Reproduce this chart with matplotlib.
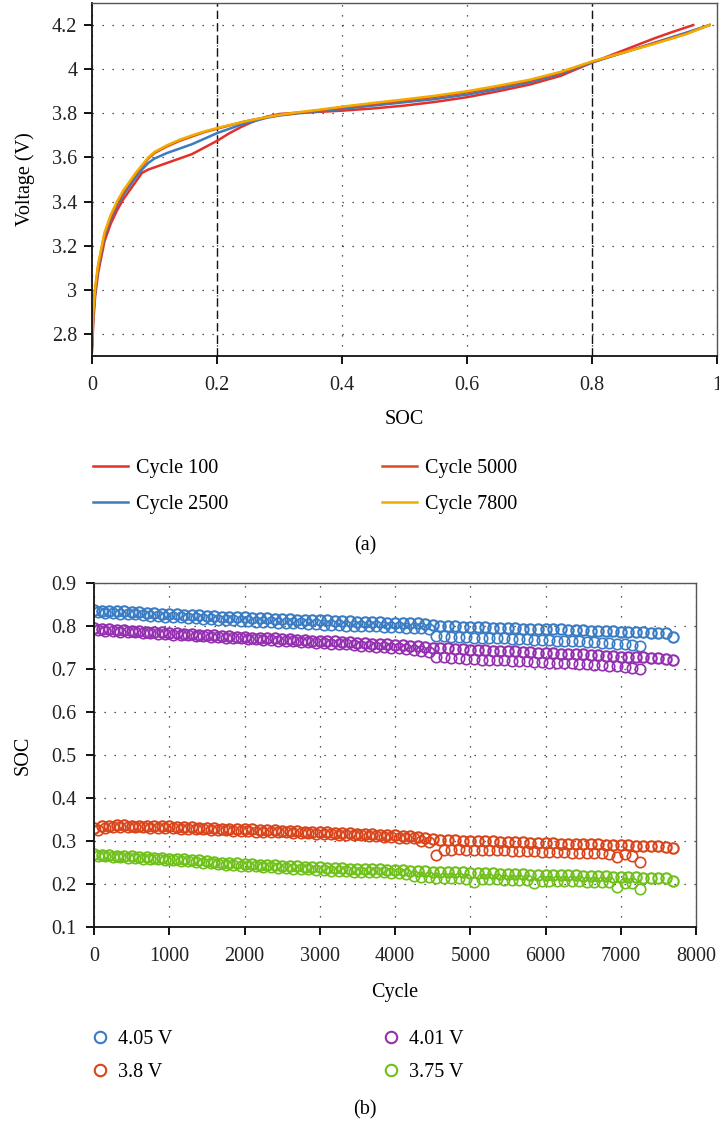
import matplotlib
matplotlib.use("Agg")
import matplotlib.pyplot as plt
import numpy as np
from matplotlib.ticker import FuncFormatter

plt.rcParams['font.family'] = ['Liberation Serif', 'DejaVu Serif']
plt.rcParams['font.size'] = 14.5

# ---- (a) voltage vs SOC ----
soc_100 = [0, 0.002, 0.005, 0.01, 0.02, 0.03, 0.04, 0.05, 0.06, 0.07, 0.08, 0.09, 0.10,
           0.12, 0.14, 0.16, 0.18, 0.20, 0.22, 0.24, 0.26, 0.28, 0.30, 0.33, 0.36, 0.40,
           0.45, 0.50, 0.55, 0.60, 0.65, 0.70, 0.75, 0.80, 0.85, 0.90, 0.93, 0.962]
v_100 = [2.72, 2.85, 2.97, 3.08, 3.22, 3.30, 3.36, 3.41, 3.45, 3.49, 3.53, 3.545, 3.555,
         3.575, 3.595, 3.615, 3.645, 3.675, 3.71, 3.74, 3.765, 3.785, 3.797, 3.803, 3.806, 3.812,
         3.822, 3.835, 3.852, 3.873, 3.90, 3.93, 3.97, 4.03, 4.085, 4.14, 4.17, 4.20]

soc_late = [0, 0.002, 0.005, 0.01, 0.02, 0.03, 0.04, 0.05, 0.06, 0.07, 0.08, 0.09, 0.10,
            0.12, 0.14, 0.16, 0.18, 0.20, 0.22, 0.24, 0.26, 0.28, 0.30, 0.33, 0.36, 0.40,
            0.45, 0.50, 0.55, 0.60, 0.65, 0.70, 0.75, 0.80, 0.85, 0.90, 0.95, 0.988]
v_2500 = [2.74, 2.88, 2.99, 3.10, 3.24, 3.32, 3.38, 3.43, 3.47, 3.51, 3.545, 3.575, 3.595,
          3.62, 3.64, 3.66, 3.685, 3.71, 3.73, 3.75, 3.765, 3.78, 3.79, 3.80, 3.808, 3.82,
          3.835, 3.85, 3.865, 3.885, 3.91, 3.94, 3.98, 4.03, 4.075, 4.12, 4.165, 4.20]
v_5000 = [2.75, 2.89, 3.00, 3.11, 3.25, 3.33, 3.39, 3.44, 3.485, 3.525, 3.56, 3.595, 3.62,
          3.65, 3.675, 3.695, 3.715, 3.73, 3.745, 3.76, 3.772, 3.783, 3.792, 3.802, 3.812, 3.827,
          3.843, 3.858, 3.875, 3.895, 3.92, 3.948, 3.985, 4.033, 4.075, 4.118, 4.16, 4.20]
v_7800 = [2.76, 2.90, 3.01, 3.12, 3.26, 3.34, 3.40, 3.45, 3.49, 3.53, 3.565, 3.60, 3.625,
          3.655, 3.68, 3.70, 3.718, 3.733, 3.747, 3.76, 3.772, 3.783, 3.793, 3.805, 3.815, 3.83,
          3.847, 3.863, 3.88, 3.90, 3.925, 3.952, 3.988, 4.035, 4.075, 4.115, 4.158, 4.20]

# ---- (b) SOC at fixed voltage vs cycle (every 100 cycles) ----
blue_hi = [0.838, 0.836, 0.836, 0.835, 0.834, 0.833, 0.832, 0.831, 0.830, 0.829,
           0.828, 0.827, 0.826, 0.826, 0.825, 0.824, 0.823, 0.822, 0.822, 0.821,
           0.820, 0.819, 0.819, 0.818, 0.817, 0.817, 0.816, 0.815, 0.815, 0.814,
           0.813, 0.813, 0.812, 0.812, 0.811, 0.810, 0.810, 0.809, 0.809, 0.808,
           0.808, 0.807, 0.806, 0.806, 0.805, 0.803, 0.800, 0.799, 0.799, 0.798,
           0.798, 0.797, 0.797, 0.796, 0.796, 0.795, 0.795, 0.794, 0.794, 0.793,
           0.793, 0.792, 0.792, 0.791, 0.790, 0.790, 0.789, 0.789, 0.788, 0.788,
           0.787, 0.786, 0.786, 0.785, 0.784, 0.784, 0.783, 0.775]
blue_lo = [0.832, 0.831, 0.830, 0.829, 0.828, 0.827, 0.826, 0.824, 0.823, 0.822,
           0.821, 0.820, 0.819, 0.818, 0.817, 0.816, 0.815, 0.814, 0.813, 0.812,
           0.811, 0.810, 0.809, 0.809, 0.808, 0.807, 0.806, 0.806, 0.805, 0.804,
           0.803, 0.803, 0.802, 0.801, 0.801, 0.800, 0.799, 0.799, 0.798, 0.797,
           0.797, 0.796, 0.795, 0.795, 0.794, 0.777, 0.776, 0.775, 0.775, 0.774,
           0.773, 0.773, 0.772, 0.771, 0.771, 0.770, 0.769, 0.769, 0.768, 0.767,
           0.767, 0.766, 0.765, 0.765, 0.764, 0.763, 0.762, 0.761, 0.760, 0.759,
           0.757, 0.756, 0.753]
purple_hi = [0.795, 0.793, 0.792, 0.791, 0.790, 0.789, 0.788, 0.787, 0.786, 0.785,
             0.784, 0.783, 0.782, 0.781, 0.780, 0.779, 0.778, 0.777, 0.776, 0.775,
             0.774, 0.773, 0.772, 0.771, 0.771, 0.770, 0.769, 0.768, 0.767, 0.766,
             0.766, 0.765, 0.764, 0.763, 0.762, 0.761, 0.760, 0.759, 0.758, 0.757,
             0.756, 0.755, 0.754, 0.753, 0.752, 0.750, 0.749, 0.748, 0.747, 0.746,
             0.745, 0.744, 0.744, 0.743, 0.742, 0.741, 0.741, 0.740, 0.739, 0.738,
             0.737, 0.737, 0.736, 0.735, 0.734, 0.734, 0.733, 0.732, 0.731, 0.730,
             0.729, 0.729, 0.728, 0.727, 0.726, 0.725, 0.724, 0.721]
purple_lo = [0.790, 0.789, 0.788, 0.787, 0.786, 0.785, 0.784, 0.783, 0.782, 0.781,
             0.780, 0.779, 0.778, 0.777, 0.776, 0.775, 0.774, 0.773, 0.772, 0.771,
             0.770, 0.769, 0.768, 0.767, 0.766, 0.765, 0.764, 0.763, 0.762, 0.761,
             0.760, 0.759, 0.758, 0.757, 0.755, 0.754, 0.753, 0.752, 0.751, 0.750,
             0.748, 0.746, 0.744, 0.742, 0.740, 0.728, 0.727, 0.726, 0.725, 0.724,
             0.723, 0.722, 0.722, 0.721, 0.720, 0.719, 0.718, 0.718, 0.717, 0.716,
             0.715, 0.715, 0.714, 0.713, 0.712, 0.711, 0.710, 0.709, 0.708, 0.707,
             0.705, 0.703, 0.699]
orange_hi = [0.330, 0.334, 0.336, 0.337, 0.337, 0.336, 0.336, 0.335, 0.335, 0.334,
             0.334, 0.333, 0.333, 0.332, 0.331, 0.331, 0.330, 0.329, 0.329, 0.328,
             0.327, 0.327, 0.326, 0.325, 0.325, 0.324, 0.323, 0.323, 0.322, 0.321,
             0.321, 0.320, 0.319, 0.319, 0.318, 0.317, 0.316, 0.316, 0.315, 0.314,
             0.313, 0.312, 0.311, 0.310, 0.306, 0.304, 0.303, 0.302, 0.302, 0.301,
             0.300, 0.300, 0.299, 0.299, 0.298, 0.298, 0.297, 0.297, 0.296, 0.296,
             0.295, 0.295, 0.294, 0.294, 0.293, 0.293, 0.292, 0.292, 0.291, 0.291,
             0.290, 0.290, 0.289, 0.289, 0.288, 0.288, 0.287, 0.283]
orange_lo = [0.326, 0.330, 0.332, 0.333, 0.333, 0.332, 0.332, 0.331, 0.331, 0.330,
             0.330, 0.329, 0.328, 0.328, 0.327, 0.326, 0.326, 0.325, 0.324, 0.324,
             0.323, 0.322, 0.322, 0.321, 0.320, 0.320, 0.319, 0.318, 0.318, 0.317,
             0.316, 0.316, 0.315, 0.314, 0.313, 0.313, 0.312, 0.311, 0.310, 0.309,
             0.308, 0.307, 0.306, 0.300, 0.298, 0.268, 0.279, 0.280, 0.281, 0.279,
             0.280, 0.279, 0.279, 0.278, 0.278, 0.277, 0.277, 0.276, 0.276, 0.275,
             0.275, 0.274, 0.274, 0.273, 0.273, 0.272, 0.272, 0.271, 0.270, 0.262,
             0.270, 0.265, 0.252]
green_hi = [0.270, 0.268, 0.267, 0.266, 0.265, 0.264, 0.263, 0.262, 0.261, 0.260,
            0.259, 0.258, 0.257, 0.256, 0.255, 0.254, 0.252, 0.250, 0.249, 0.248,
            0.247, 0.246, 0.245, 0.244, 0.244, 0.243, 0.242, 0.241, 0.240, 0.240,
            0.239, 0.238, 0.238, 0.237, 0.236, 0.236, 0.235, 0.234, 0.234, 0.233,
            0.232, 0.232, 0.231, 0.230, 0.230, 0.229, 0.228, 0.228, 0.227, 0.227,
            0.226, 0.226, 0.225, 0.225, 0.224, 0.224, 0.223, 0.223, 0.222, 0.222,
            0.222, 0.221, 0.221, 0.220, 0.220, 0.219, 0.219, 0.218, 0.218, 0.217,
            0.217, 0.216, 0.216, 0.215, 0.215, 0.214, 0.214, 0.206]
green_lo = [0.265, 0.264, 0.263, 0.262, 0.261, 0.260, 0.259, 0.258, 0.257, 0.256,
            0.255, 0.254, 0.253, 0.252, 0.250, 0.248, 0.246, 0.245, 0.244, 0.243,
            0.242, 0.241, 0.240, 0.239, 0.238, 0.237, 0.236, 0.235, 0.234, 0.233,
            0.232, 0.231, 0.231, 0.230, 0.229, 0.229, 0.228, 0.227, 0.227, 0.226,
            0.225, 0.224, 0.218, 0.217, 0.216, 0.215, 0.214, 0.214, 0.213, 0.212,
            0.205, 0.212, 0.211, 0.211, 0.210, 0.210, 0.209, 0.209, 0.203, 0.208,
            0.208, 0.207, 0.207, 0.206, 0.206, 0.205, 0.205, 0.204, 0.204, 0.193,
            0.203, 0.202, 0.188]

W, H = 719, 1126
FS = 14.5
fig = plt.figure(figsize=(W / 100, H / 100), dpi=100)


def fbox(l, t, r, b):
    return [l / W, 1 - b / H, (r - l) / W, (b - t) / H]


def style_axes(ax):
    for s in ['left', 'bottom']:
        ax.spines[s].set_color('#111111')
        ax.spines[s].set_linewidth(1.3)
    for s in ['top', 'right']:
        ax.spines[s].set_color('#555555')
        ax.spines[s].set_linewidth(1.0)
    ax.tick_params(direction='out', length=5.5, width=1.4, colors='#111111',
                   labelcolor='#222222', labelsize=FS)
    ax.tick_params(axis='x', pad=9)
    ax.tick_params(axis='y', pad=5)
    fmt = FuncFormatter(lambda v, p: '%g' % round(v, 6))
    ax.xaxis.set_major_formatter(fmt)
    ax.yaxis.set_major_formatter(fmt)


dot = (0, (1, 7))

# panel (a)
ax1 = fig.add_axes(fbox(92, 3, 717, 356))
ax1.plot(soc_100, v_100, color='#e3302a', lw=1.8, label='Cycle 100')
ax1.plot(soc_late, v_2500, color='#3a7cc0', lw=1.8, label='Cycle 2500')
ax1.plot(soc_late, v_5000, color='#dc4a1e', lw=1.8, label='Cycle 5000')
ax1.plot(soc_late, v_7800, color='#f2ab00', lw=1.8, label='Cycle 7800')
ax1.set_xlim(0, 1)
ax1.set_ylim(2.7, 4.3)
ax1.set_xticks([0, 0.2, 0.4, 0.6, 0.8, 1.0])
ax1.set_yticks([2.8, 3.0, 3.2, 3.4, 3.6, 3.8, 4.0, 4.2])
ax1.grid(True, linestyle=dot, color='#222222', lw=0.9)
for xv in [0.2, 0.8]:
    ax1.axvline(xv, color='#111111', lw=1.0, ls=(0, (6, 3)), zorder=1.5)
style_axes(ax1)
ax1.set_xlabel('SOC', fontsize=FS)
ax1.set_ylabel('Voltage (V)', fontsize=FS)
ax1.xaxis.set_label_coords(0.5, (356 - 420) / 353)
ax1.xaxis.label.set_va('center')
ax1.yaxis.set_label_coords((25 - 92) / 625, 0.5)
ax1.yaxis.label.set_va('center')

h, l = ax1.get_legend_handles_labels()
fig.legend(h, l, loc='upper left',
           bbox_to_anchor=(93 / W, 1 - 459 / H), ncol=2, frameon=False,
           borderpad=0, borderaxespad=0, handlelength=1.75, handletextpad=0.4,
           columnspacing=7.6, labelspacing=0.85, fontsize=FS)
fig.text(365 / W, 1 - 546 / H, '(a)', ha='center', va='center', fontsize=FS)

# panel (b)
ax2 = fig.add_axes(fbox(94, 583, 696, 927))
groups = [
    ('4.05 V', blue_hi, blue_lo, '#3a7cc4'),
    ('3.8 V', orange_hi, orange_lo, '#d9441a'),
    ('4.01 V', purple_hi, purple_lo, '#9430b0'),
    ('3.75 V', green_hi, green_lo, '#6fc01a'),
]
handles = {}
for name, hi, lo, col in groups:
    x_lo = np.arange(len(lo)) * 100 + 50
    x_hi = np.arange(len(hi)) * 100
    ax2.plot(x_lo, lo, ls='none', marker='o', ms=7.5, mfc='none', mec=col, mew=1.2)
    ln, = ax2.plot(x_hi, hi, ls='none', marker='o', ms=7.5, mfc='none', mec=col,
                   mew=1.5, label=name)
    handles[name] = ln
ax2.set_xlim(0, 8000)
ax2.set_ylim(0.1, 0.9)
ax2.set_xticks(np.arange(0, 8001, 1000))
ax2.set_yticks(np.arange(0.1, 0.91, 0.1))
ax2.grid(True, linestyle=dot, color='#222222', lw=0.9)
style_axes(ax2)
ax2.tick_params(axis='y', pad=7)
ax2.set_xlabel('Cycle', fontsize=FS)
ax2.set_ylabel('SOC', fontsize=FS)
ax2.xaxis.set_label_coords(0.5, (927 - 992) / 344)
ax2.xaxis.label.set_va('center')
ax2.yaxis.set_label_coords((23 - 94) / 602, 0.5)
ax2.yaxis.label.set_va('center')

names = ['4.05 V', '3.8 V', '4.01 V', '3.75 V']
fig.legend([handles[n] for n in names], names, loc='upper left',
           bbox_to_anchor=(89 / W, 1 - 1030 / H), ncol=2, frameon=False,
           borderpad=0, borderaxespad=0, handlelength=1.1, handletextpad=0.35,
           columnspacing=10.3, labelspacing=0.7, fontsize=FS, markerscale=1.1)
fig.text(365 / W, 1 - 1110 / H, '(b)', ha='center', va='center', fontsize=FS)

fig.savefig('out.png', dpi=100)
